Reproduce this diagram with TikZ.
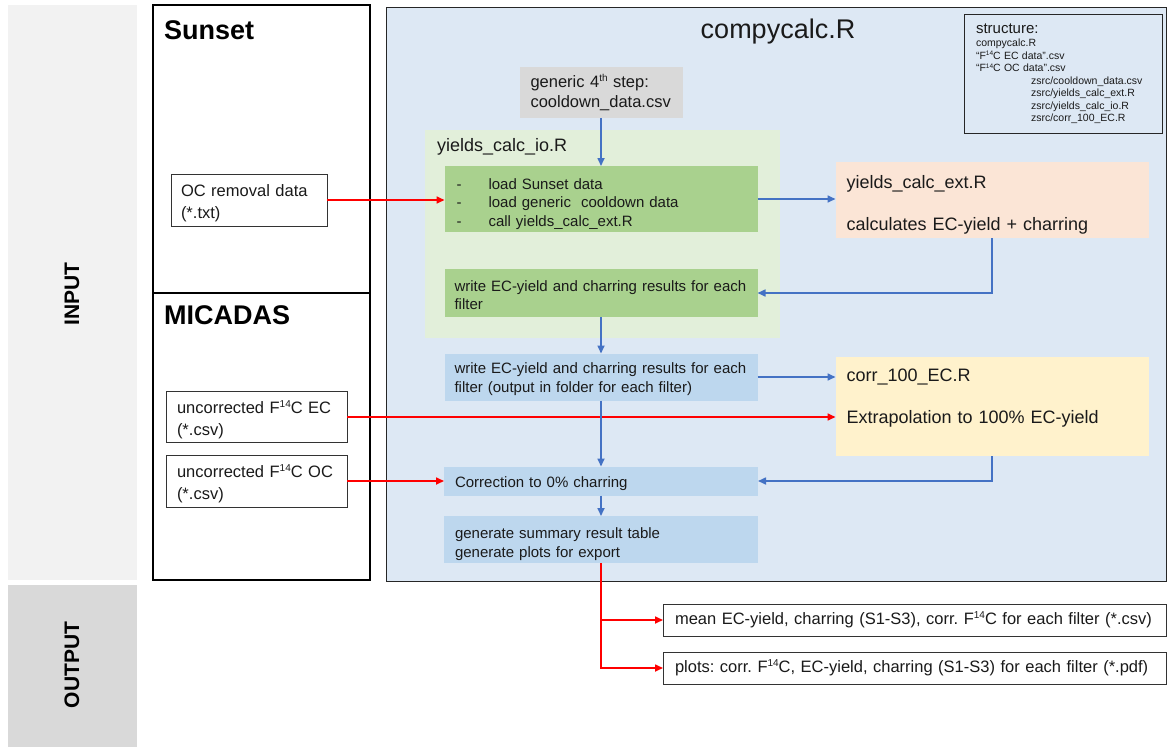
\documentclass[tikz,border=0pt]{standalone}
\usepackage{fontspec}
\setmainfont{Liberation Sans}
\usetikzlibrary{arrows.meta}
\frenchspacing
\definecolor{bgblue}{HTML}{DDE8F4}
\definecolor{lgreen}{HTML}{E2EFDA}
\definecolor{dgreen}{HTML}{A9D18E}
\definecolor{mblue}{HTML}{BDD7EE}
\definecolor{lgray}{HTML}{D9D9D9}
\definecolor{vlgray}{HTML}{F2F2F2}
\definecolor{peach}{HTML}{FBE5D6}
\definecolor{lyellow}{HTML}{FFF2CC}
\definecolor{arrblue}{HTML}{4472C4}
\definecolor{arrred}{HTML}{FF0000}
\definecolor{txt}{HTML}{1A1A1A}
\newcommand{\supA}[1]{\raisebox{6pt}{\fontsize{10}{10}\selectfont #1}}
\newcommand{\supB}[1]{\raisebox{3.5pt}{\fontsize{6.5}{6.5}\selectfont #1}}
\begin{document}
\begin{tikzpicture}[x=1pt,y=-1pt,
  every node/.style={text=txt},
  rbox/.style={rectangle, inner sep=0pt, outer sep=0pt, align=left},
  small/.style={font=\fontsize{15}{18.5}\selectfont},
  mid/.style={font=\fontsize{16.5}{21.5}\selectfont},
  big/.style={font=\fontsize{18}{21}\selectfont},
  inbox/.style={rbox, draw=black!80, line width=1pt, fill=white, mid},
  barrow/.style={draw=arrblue, line width=1.6pt, -{Triangle[length=8pt,width=7pt]}},
  rarrow/.style={draw=arrred, line width=1.6pt, -{Triangle[length=8pt,width=7pt]}},
  band/.style={rectangle, inner sep=0pt, draw=none},
  bandlabel/.style={rotate=90, font=\fontsize{21}{21}\selectfont\bfseries, text=black}
]
\useasboundingbox (0,0) rectangle (1167,747);

% side bands
\node[band, fill=vlgray, minimum width=129pt, minimum height=575pt] (inband) at (72.5,292.5) {};
\node[band, fill=lgray, minimum width=129pt, minimum height=162pt] (outband) at (72.5,666) {};
\node[bandlabel] (inlabel) at (72,294) {INPUT};
\node[bandlabel] (outlabel) at (72,665) {OUTPUT};

% Sunset / MICADAS
\node[rbox, draw=black, line width=1.3pt, minimum width=217pt, minimum height=288pt] (sunset) at (261.5,149) {};
\node[rbox, draw=black, line width=1.3pt, minimum width=217pt, minimum height=287pt] (micadas) at (261.5,436.5) {};
\node[anchor=west, inner sep=0pt, font=\fontsize{27}{27}\selectfont\bfseries, text=black] (sunsetT) at (164,30) {Sunset};
\node[anchor=west, inner sep=0pt, font=\fontsize{27}{27}\selectfont\bfseries, text=black] (micadasT) at (164,315) {MICADAS};

% compycalc box
\node[rbox, draw=black!85, line width=1pt, fill=bgblue, minimum width=780pt, minimum height=574pt] (compy) at (776,294) {};
\node[inner sep=0pt, font=\fontsize{27}{27}\selectfont] (compyT) at (778,32) {compycalc.R};

% structure box
\node[rbox, draw=black!85, line width=1pt, fill=bgblue, minimum width=198pt, minimum height=119pt, text width=174pt] (struct) at (1063,73.5)
 {{\fontsize{15}{15}\selectfont structure:}\\[1pt]
  \fontsize{10.5}{12.5}\selectfont compycalc.R\\
  ``F\supB{14}C EC data''.csv\\
  ``F\supB{14}C OC data''.csv\\
  \hspace*{55pt}zsrc/cooldown\_data.csv\\
  \hspace*{55pt}zsrc/yields\_calc\_ext.R\\
  \hspace*{55pt}zsrc/yields\_calc\_io.R\\
  \hspace*{55pt}zsrc/corr\_100\_EC.R};

% generic step
\node[rbox, fill=lgray, minimum width=163pt, minimum height=51pt, text width=141pt, font=\fontsize{16.5}{20}\selectfont] (generic) at (601,92.5)
 {generic 4\supA{th} step:\\cooldown\_data.csv};

% yields_calc_io area
\node[rbox, fill=lgreen, minimum width=355pt, minimum height=208pt] (ioarea) at (602.5,234) {};
\node[anchor=west, inner sep=0pt, font=\fontsize{18}{18}\selectfont] (ioT) at (437,147) {yields\_calc\_io.R};

\node[rbox, fill=dgreen, small, minimum width=313pt, minimum height=66pt, text width=289pt] (load) at (601,199)
 {\rule{0pt}{20.5pt}\makebox[32pt][l]{-}load Sunset data\\
  \makebox[32pt][l]{-}load generic\ \ cooldown data\\
  \makebox[32pt][l]{-}call yields\_calc\_ext.R};
\node[rbox, fill=dgreen, small, minimum width=313pt, minimum height=48pt, text width=293pt] (wgreen) at (601,293)
 {\rule{0pt}{15pt}write EC-yield and charring results for each\\filter};

\node[rbox, fill=mblue, small, minimum width=313pt, minimum height=47pt, text width=293pt] (wblue) at (601,377)
 {\rule{0pt}{15pt}write EC-yield and charring results for each\\filter (output in folder for each filter)};
\node[rbox, fill=mblue, small, minimum width=314pt, minimum height=29pt, text width=292pt] (corr) at (601,481)
 {\rule{0pt}{16pt}Correction to 0\% charring};
\node[rbox, fill=mblue, small, minimum width=314pt, minimum height=47pt, text width=292pt] (gen) at (601,539.5)
 {\rule{0pt}{20pt}generate summary result table\\generate plots for export};

% right boxes
\node[rbox, fill=peach, big, minimum width=313pt, minimum height=76pt, text width=291pt] (ext) at (992,200)
 {\rule{0pt}{22pt}yields\_calc\_ext.R\\[21pt]calculates EC-yield + charring};
\node[rbox, fill=lyellow, big, minimum width=313pt, minimum height=99pt, text width=291pt] (c100) at (992,406.5)
 {corr\_100\_EC.R\\[21pt]Extrapolation to 100\% EC-yield\\\mbox{}};

% input boxes
\node[inbox, minimum width=156pt, minimum height=52pt, text width=136pt] (oc) at (249,200)
 {\rule{0pt}{18pt}OC removal data\\(*.txt)};
\node[inbox, minimum width=181pt, minimum height=51pt, text width=159pt] (ucec) at (256.5,417)
 {\rule{0pt}{18pt}uncorrected F\supA{14}C EC\\(*.csv)};
\node[inbox, minimum width=181pt, minimum height=52pt, text width=159pt] (ucoc) at (256.5,481)
 {\rule{0pt}{18pt}uncorrected F\supA{14}C OC\\(*.csv)};

% output boxes
\node[inbox, minimum width=503pt, minimum height=32pt, text width=479pt] (out1) at (914.5,620)
 {\mbox{mean EC-yield, charring (S1-S3), corr. F\supA{14}C for each filter (*.csv)}};
\node[inbox, minimum width=503pt, minimum height=32pt, text width=479pt] (out2) at (914.5,668)
 {\mbox{plots: corr. F\supA{14}C, EC-yield, charring (S1-S3) for each filter (*.pdf)}};

% connectors
\draw[barrow] (generic.south) -- (generic.south |- load.north);
\draw[rarrow] (oc.east) -- (oc.east -| load.west);
\draw[barrow] (load.east) -- (load.east -| ext.west);
\draw[barrow] (ext.south) |- (wgreen.east);
\draw[barrow] (wgreen.south) -- (wgreen.south |- wblue.north);
\draw[barrow] (wblue.east) -- (wblue.east -| c100.west);
\draw[rarrow] (ucec.east) -- (ucec.east -| c100.west);
\draw[barrow] (wblue.south) -- (wblue.south |- corr.north);
\draw[rarrow] (ucoc.east) -- (ucoc.east -| corr.west);
\draw[barrow] (c100.south) |- (corr.east);
\draw[barrow] (corr.south) -- (corr.south |- gen.north);
\draw[rarrow] (gen.south) |- (out1.west);
\draw[rarrow] (gen.south) |- (out2.west);
\end{tikzpicture}
\end{document}
